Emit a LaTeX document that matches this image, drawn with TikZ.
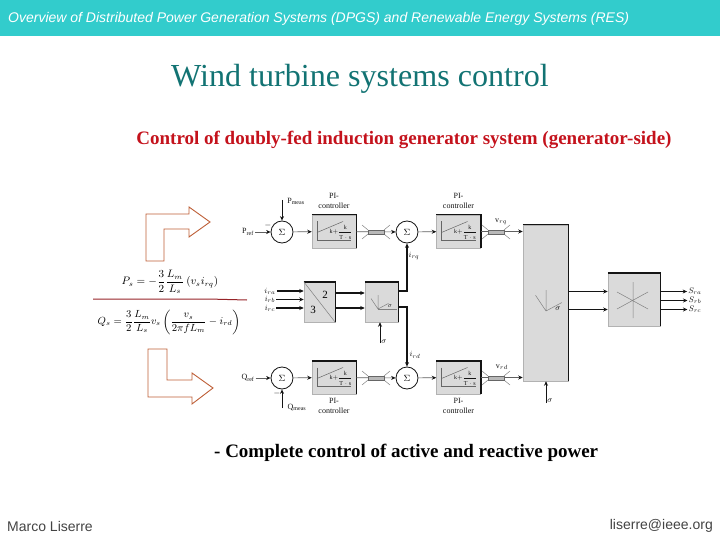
\documentclass[tikz,border=0pt]{standalone}
\usepackage{amsmath}
\usepackage{fontspec}
\setmainfont{Liberation Serif}
\setsansfont{Liberation Sans}
\usetikzlibrary{arrows.meta,positioning,calc}
\definecolor{teal band}{RGB}{50,204,204}
\definecolor{deep teal}{RGB}{18,115,115}
\definecolor{scarlet}{RGB}{196,18,28}
\definecolor{rust}{RGB}{190,95,55}
\definecolor{maroon}{RGB}{150,35,40}
\definecolor{panel}{RGB}{218,218,218}
\definecolor{ink}{RGB}{20,20,20}
\tikzset{
  >={Stealth[length=4.5pt,width=4pt]},
  block/.style={draw=gray!60,fill=panel,line width=0.5pt,inner sep=0pt},
  pibox/.style={block,minimum width=44pt,minimum height=33pt},
  sumnode/.style={circle,draw=ink,fill=white,line width=0.8pt,minimum size=22pt,inner sep=0pt,font=\fontsize{9}{10}\selectfont},
  tag/.style={font=\fontsize{8}{9}\selectfont,text=ink,inner sep=1pt,align=center},
  flow/.style={->,line width=0.7pt,draw=ink},
  soft/.style={-{Stealth[length=4.5pt,width=4pt,ink]},line width=0.7pt,draw=gray!75!black},
  heavy/.style={->,line width=1.1pt,draw=ink},
  edgeline/.style={line width=1.5pt,draw=ink},
  bigarrow/.style={draw=rust,line width=0.9pt,fill=white},
  eqn/.style={font=\fontsize{9}{10}\selectfont,inner sep=0pt,transform shape},
  % pictograms
  pics/piplot/.style={code={
    \draw[gray!80!black,line width=0.7pt] (-17,-10) -- (-17,8.5) -- (17,8.5);
    \draw[gray!80!black,line width=0.5pt] (-17,1) -- (9,-10);
    \node[font=\fontsize{6}{6}\selectfont,text=ink,inner sep=0pt] at (7,0.5) {$\displaystyle\mathrm{k}{+}\frac{\mathrm{k}}{\mathrm{T}\cdot \mathrm{s}}$};
  }},
  pics/link/.style={code={
    \draw[gray,line width=0.5pt] (-14,-7) -- (-8,-2) (-14,7) -- (-8,2) (14,-7) -- (8,-2) (14,7) -- (8,2);
    \draw[gray!80!black,fill=gray!55,line width=0.5pt] (-8,-2) rectangle (8,2);
  }},
  pics/angle/.style={code={
    \draw[gray,line width=0.5pt] (0,0) -- (0,-#1) (0,0) -- (-#1*0.5,-#1*0.75) (0,0) -- (#1*0.75,-#1*0.4);
  }},
}
\begin{document}
\begin{tikzpicture}[x=1pt,y=-1pt]
  \useasboundingbox (0,0) rectangle (720,540);
  \fill[teal band] (0,0) rectangle (720,36);
  \node[font=\sffamily\itshape\fontsize{14}{16}\selectfont,text=white,inner sep=0pt,anchor=west] (header) at (8,18.5) {Overview of Distributed Power Generation Systems (DPGS) and Renewable Energy Systems (RES)};
  \node[font=\fontsize{32.1}{35}\selectfont,text=deep teal,inner sep=0pt] (title) at (360,79) {Wind turbine systems control};
  \node[font=\bfseries\fontsize{19}{22}\selectfont,text=scarlet,inner sep=0pt] (subtitle) at (404,140) {Control of doubly-fed induction generator system (generator-side)};
  \node[font=\bfseries\fontsize{19}{22}\selectfont,inner sep=0pt,anchor=west] (note) at (214,453) {- Complete control of active and reactive power};
  \node[font=\sffamily\fontsize{14}{16}\selectfont,text=ink!80,inner sep=0pt,anchor=west] (author) at (7,526) {Marco Liserre};
  \node[font=\sffamily\fontsize{14}{16}\selectfont,text=ink!80,inner sep=0pt,anchor=east] (mail) at (713,526) {liserre@ieee.org};

  % left side: arrows and power equations
  \draw[bigarrow] (146,261) -- (146,214) -- (189,214) -- (189,207) -- (210,222) -- (189,237) -- (189,229) -- (164,229) -- (164,261) -- cycle;
  \draw[bigarrow] (148,349) -- (167,349) -- (167,380) -- (192,380) -- (192,373) -- (213,388) -- (192,404) -- (192,397) -- (148,397) -- cycle;
  \coordinate (ruleA) at (93,299);
  \coordinate (ruleB) at (208,299);
  \coordinate (ruleC) at (247,300);
  \draw[maroon,line width=1pt] (ruleA) -- (ruleB) -- (ruleC);
  \node[eqn,scale=1.2] (eqP) at (170,282) {$P_s=-\dfrac{3}{2}\dfrac{L_m}{L_s}\left(v_s i_{rq}\right)$};
  \node[eqn,scale=1.15] (eqQ) at (169,322) {$Q_s=\dfrac{3}{2}\dfrac{L_m}{L_s}v_s\left(\dfrac{v_s}{2\pi fL_m}-i_{rd}\right)$};

  % blocks
  \node[pibox] (piP) at (334,231.5) {};
  \node[pibox] (piIq) at (458.5,231.5) {};
  \node[pibox] (piQ) at (334,377.5) {};
  \node[pibox] (piId) at (458.5,377.5) {};
  \node[block,minimum width=31pt,minimum height=40pt] (abc) at (319.5,302) {};
  \node[block,minimum width=33pt,minimum height=40pt] (rot) at (381.5,302) {};
  \node[block,minimum width=45pt,minimum height=156pt] (inv) at (545.5,303) {};
  \node[block,minimum width=52pt,minimum height=53pt] (pwm) at (634,299.5) {};
  \foreach \b in {piP,piIq,piQ,piId,abc,rot,inv,pwm}
    \draw[edgeline] (\b.north west) -- (\b.north east) -- (\b.south east);
  \foreach \b in {piP,piIq,piQ,piId}
    \pic at (\b.center) {piplot};
  \draw[gray,line width=0.5pt] (abc.north west) -- (abc.south east);
  \node[font=\fontsize{11}{12}\selectfont,inner sep=0pt] (two) at (325,295) {2};
  \node[font=\fontsize{11}{12}\selectfont,inner sep=0pt] (three) at (313,310) {3};
  \pic at (378,309) {angle=14};
  \draw[gray,line width=0.5pt] (378,309) -- (397,309);
  \node[tag,font=\fontsize{6}{7}\selectfont] (rotangle) at (390,306) {$\sigma$};
  \pic at (546,311) {angle=21};
  \node[tag] (invangle) at (558,309) {$\sigma$};
  \draw[gray,line width=0.5pt] (633,282) -- (633,318) (617,292) -- (648,309) (617,309) -- (648,292);

  % sums
  \node[sumnode] (sumP) at (282,232) {$\Sigma$};
  \node[sumnode] (sumIq) at (407,232) {$\Sigma$};
  \node[sumnode] (sumQ) at (282,378) {$\Sigma$};
  \node[sumnode] (sumId) at (407,378) {$\Sigma$};

  % labels
  \node[tag] (pref) at (248,232) {$\mathrm{P}_{\mathrm{ref}}$};
  \node[tag] (qref) at (248,378) {$\mathrm{Q}_{\mathrm{ref}}$};
  \node[tag] (pmeas) at (296,201) {$\mathrm{P}_{\mathrm{meas}}$};
  \node[tag] (qmeas) at (297,407) {$\mathrm{Q}_{\mathrm{meas}}$};
  \node[tag] (minusP) at (268,225) {$-$};
  \node[tag] (minusQ) at (277,393) {$-$};
  \foreach \x/\y/\n in {334/197/ctlA,458.5/197/ctlB,334/402/ctlC,458.5/402/ctlD}
    \node[tag,font=\fontsize{8}{10.5}\selectfont,anchor=north,yshift=5pt] (\n) at (\x,\y) {PI-\\controller};
  \node[tag] (irq) at (414,256) {$i_{rq}$};
  \node[tag] (ird) at (415,355) {$i_{rd}$};
  \node[tag] (vrq) at (501,222) {$\mathrm{v}_{rq}$};
  \node[tag] (vrd) at (502,367) {$\mathrm{v}_{rd}$};
  \node[tag] (ira) at (270,291) {$i_{ra}$};
  \node[tag] (irb) at (270,299.5) {$i_{rb}$};
  \node[tag] (irc) at (270,308) {$i_{rc}$};
  \node[tag] (sra) at (695,291.5) {$S_{ra}$};
  \node[tag] (srb) at (695,300.5) {$S_{rb}$};
  \node[tag] (src) at (695,309.5) {$S_{rc}$};
  \node[tag] (rotsig) at (384,342) {$\sigma$};
  \node[tag] (invsig) at (550,401) {$\sigma$};

  % connectors
  \coordinate (pfoot) at (282,200);
  \coordinate (qfoot) at (282,408);
  \coordinate (rotfoot) at (380,343);
  \coordinate (invfoot) at (546,403);
  \draw[soft] (pref) -- (sumP);
  \draw[soft] (qref) -- (sumQ);
  \draw[flow] (pfoot) -- (sumP);
  \draw[flow] (qfoot) -- (sumQ);
  \draw[soft] (sumP) -- (piP);
  \draw[soft] (sumQ) -- (piQ);
  \draw[soft] (sumIq) -- (piIq);
  \draw[soft] (sumId) -- (piId);
  \draw[soft] (piP) -- (sumIq);
  \draw[soft] (piQ) -- (sumId);
  \draw[soft] (piIq) -- (piIq -| inv.west);
  \draw[soft] (piId) -- (piId -| inv.west);
  \foreach \a in {ira,irb,irc}
    \draw[heavy] (\a) -- (\a -| abc.west);
  \draw[heavy] ([yshift=9pt]abc.east) -- ([yshift=9pt]rot.west);
  \draw[heavy] ([yshift=-6pt]abc.east) -- ([yshift=-6pt]rot.west);
  \draw[heavy] ([yshift=11pt]rot.east) -| (sumIq);
  \draw[heavy] ([yshift=-5pt]rot.east) -| (sumId);
  \draw[flow] (rotfoot) -- (rotfoot |- rot.south);
  \draw[flow] (invfoot) -- (invfoot |- inv.south);
  \draw[heavy] (inv.east |- sra) -- (pwm.west |- sra);
  \draw[heavy] (inv.east |- src) -- (pwm.west |- src);
  \foreach \s in {sra,srb,src}
    \draw[heavy] (pwm.east |- \s) -- (\s);

  \foreach \x/\y in {376/232,376/378,496/232,496/378}
    \pic at (\x,\y) {link};
\end{tikzpicture}
\end{document}
